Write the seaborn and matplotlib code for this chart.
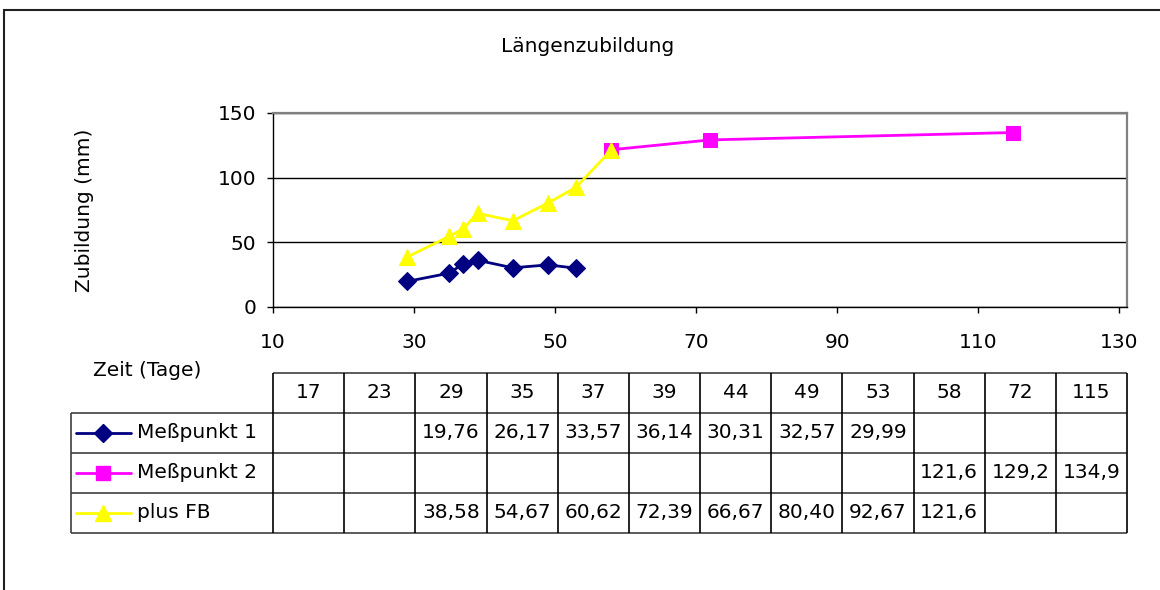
import numpy as np
import pandas as pd
import matplotlib
matplotlib.use('Agg')
import matplotlib.pyplot as plt
from matplotlib.patches import Rectangle
import seaborn as sns

days = [17, 23, 29, 35, 37, 39, 44, 49, 53, 58, 72, 115]
mess1 = [np.nan, np.nan, 19.76, 26.17, 33.57, 36.14, 30.31, 32.57, 29.99, np.nan, np.nan, np.nan]
mess2 = [np.nan] * 9 + [121.6, 129.2, 134.9]
plus_fb = [np.nan, np.nan, 38.58, 54.67, 60.62, 72.39, 66.67, 80.40, 92.67, 121.6, np.nan, np.nan]
series_names = ['Meßpunkt 1', 'Meßpunkt 2', 'plus FB']
x_ticks = [10, 30, 50, 70, 90, 110, 130]
y_ticks = [0, 50, 100, 150]

colors = ['#000080', '#FF00FF', '#FFFF00']
markers = ['D', 's', '^']
msizes = [9, 10.5, 11.5]

sns.set_style('white')
plt.rcParams['font.family'] = ['DejaVu Sans']
plt.rcParams['text.color'] = 'black'
plt.rcParams['xtick.color'] = 'black'
plt.rcParams['ytick.color'] = 'black'
FS = 14.5

W, H = 1160, 590
fig = plt.figure(figsize=(W / 100, H / 100), dpi=100)

def fx(px):
    return px / W

def fy(py):
    return 1 - py / H

ax = fig.add_axes([fx(273), fy(307), fx(1127 - 273), (307 - 113) / H])

df = pd.DataFrame({'Tage': days, series_names[0]: mess1,
                   series_names[1]: mess2, series_names[2]: plus_fb})
for name, c, m, ms in zip(series_names, colors, markers, msizes):
    sub = df[['Tage', name]].dropna()
    sns.lineplot(data=sub, x='Tage', y=name, ax=ax, color=c, marker=m,
                 markersize=ms, markeredgecolor=c, linewidth=2, zorder=3)

ax.set_xlim(10, 131.1)
ax.set_ylim(0, 150)
ax.set_xticks(x_ticks)
ax.set_yticks(y_ticks)
ax.set_xlabel('')
ax.set_ylabel('')
ax.yaxis.grid(True, color='black', linewidth=1)
ax.xaxis.grid(False)
ax.tick_params(axis='both', direction='out', length=4, width=1, color='black',
               labelcolor='black', labelsize=FS, bottom=True, left=True)
ax.tick_params(axis='x', pad=15)
ax.tick_params(axis='y', pad=8)
for s in ['left', 'bottom']:
    ax.spines[s].set_color('black')
    ax.spines[s].set_linewidth(1)
for s in ['top', 'right']:
    ax.spines[s].set_color('#808080')
    ax.spines[s].set_linewidth(1.6)

fig.text(fx(588), fy(46), 'Längenzubildung', ha='center', va='center', fontsize=FS)
fig.text(fx(85), fy(210), 'Zubildung (mm)', ha='center', va='center',
         rotation=90, fontsize=FS)
fig.text(fx(147), fy(370), 'Zeit (Tage)', ha='center', va='center', fontsize=FS)

# data table below the chart
ncol = len(days)
col_w = (1127 - 273) / ncol
lab_w = (273 - 71) / col_w
tab = fig.add_axes([fx(71), fy(533), fx(1127 - 71), (533 - 373) / H])
tab.set_xlim(-lab_w, ncol)
tab.set_ylim(4, 0)
tab.axis('off')

tab.hlines(0, 0, ncol, color='#404040', lw=1.2, clip_on=False)
tab.hlines([1, 2, 3, 4], -lab_w, ncol, color='#404040', lw=1.2, clip_on=False)
tab.vlines(range(ncol + 1), 0, 4, color='black', lw=1.2, clip_on=False)
tab.vlines(-lab_w, 1, 4, color='#404040', lw=1.2, clip_on=False)

def fmt(v):
    dec = 4 - len(str(int(v)))
    return f'{v:.{dec}f}'.replace('.', ',')

for j, d in enumerate(days):
    tab.text(j + 0.5, 0.5, str(d), ha='center', va='center', fontsize=FS)

rows = [mess1, mess2, plus_fb]
for i, (name, vals, c, m, ms) in enumerate(zip(series_names, rows, colors, markers, msizes)):
    yy = i + 1.5
    tab.plot([-(273 - 76) / col_w, -(273 - 131) / col_w], [yy, yy], color=c, lw=2,
             clip_on=False)
    tab.plot([-(273 - 103) / col_w], [yy], marker=m, color=c, ms=ms, mec=c,
             clip_on=False)
    tab.text(-(273 - 137) / col_w, yy, name, ha='left', va='center', fontsize=FS)
    for j, v in enumerate(vals):
        if not np.isnan(v):
            tab.text(j + 0.5, yy, fmt(v), ha='center', va='center', fontsize=FS)

# outer chart frame
fig.patches.append(Rectangle((fx(4), -0.05), 1.2, fy(10) + 0.05, transform=fig.transFigure,
                             fill=False, ec='#202020', lw=1.5))

fig.savefig('out.png', dpi=100)
